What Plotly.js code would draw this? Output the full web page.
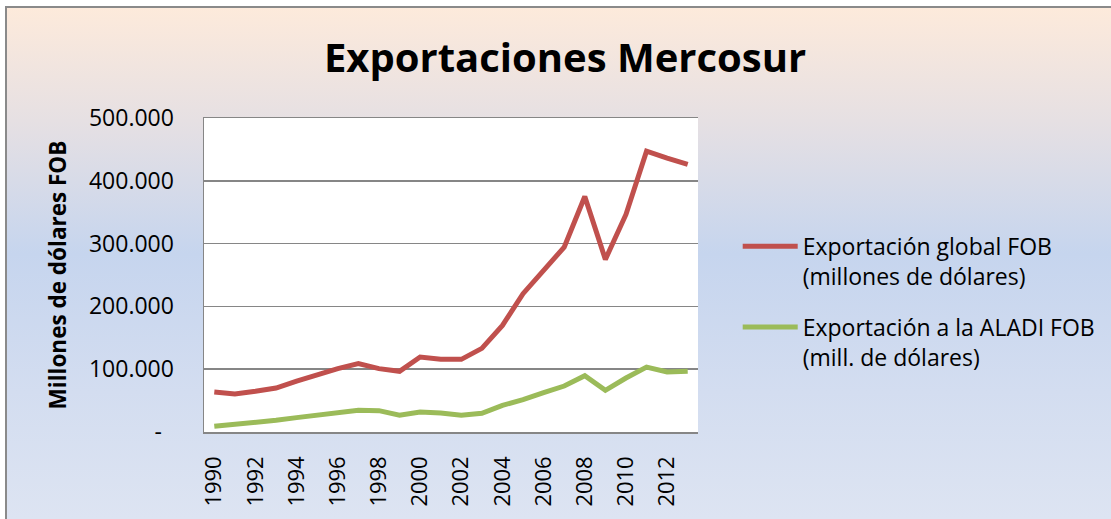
<!DOCTYPE html>
<html>
<head>
<meta charset="utf-8">
<script src="https://cdn.plot.ly/plotly-3.0.1.min.js"></script>
<style>
  html, body { margin: 0; padding: 0; background: #ffffff; }
  #frame {
    position: absolute; left: 5px; top: 6px; width: 1106px; height: 513px;
    border-top: 2px solid #8a8a8a; border-left: 2px solid #8a8a8a;
    box-sizing: border-box;
    background: linear-gradient(to bottom, #fdeadb 0%, #e6e0e3 22%, #c6d5ee 48%, #d3ddf0 75%, #dde4f2 100%);
  }
  #chart { position: absolute; left: 0; top: 0; width: 1111px; height: 519px; }
</style>
</head>
<body>
<div id="frame"></div>
<div id="chart"></div>
<script>
const years = ['1990','1991','1992','1993','1994','1995','1996','1997','1998','1999','2000','2001',
               '2002','2003','2004','2005','2006','2007','2008','2009','2010','2011','2012','2013'];
const exportGlobal = [63700, 60500, 64800, 70000, 81000, 91800, 100900, 108800, 100900, 96600, 119400, 115700,
                      115700, 133200, 169800, 220200, 257300, 294400, 375000, 274800, 346400, 447200, 436000, 426000];
const exportAladi = [9000, 11700, 15000, 18600, 22900, 27000, 29200, 34500, 34000, 26600, 31800, 30200,
                     26600, 29700, 42500, 51500, 62700, 73200, 89700, 66400, 85900, 103400, 95500, 96600];
const seriesNames = ['Exportación global FOB<br>(millones de dólares)', 'Exportación a la ALADI FOB<br>(mill. de dólares)'];
const yTickVals = [0, 100000, 200000, 300000, 400000, 500000];
const yTickText = ['-\u00a0\u00a0', '100.000', '200.000', '300.000', '400.000', '500.000'];
const xTickVals = ['1990','1992','1994','1996','1998','2000','2002','2004','2006','2008','2010','2012'];

const FONT = '"Open Sans", "Liberation Sans", sans-serif';

const traces = [
  { x: years, y: exportGlobal, name: seriesNames[0], type: 'scatter', mode: 'lines',
    line: { color: '#c0504d', width: 5 }, legendgroup: 'a' },
  { x: years, y: exportAladi, name: seriesNames[1], type: 'scatter', mode: 'lines',
    line: { color: '#9bbb59', width: 5 }, legendgroup: 'b' }
];

const layout = {
  width: 1111, height: 519,
  margin: { l: 204, r: 413, t: 118, b: 87, autoexpand: false },
  paper_bgcolor: 'rgba(0,0,0,0)',
  plot_bgcolor: '#ffffff',
  font: { family: FONT, color: '#000000', size: 23 },
  title: { text: '<b>Exportaciones Mercosur</b>', font: { family: FONT, size: 40, color: '#000' },
           xref: 'container', x: 0.5086, xanchor: 'center', yref: 'container', y: 0.888, yanchor: 'middle' },
  xaxis: {
    type: 'category', categoryorder: 'array', categoryarray: years,
    range: [-0.5, 23.5],
    tickmode: 'array', tickvals: xTickVals, ticktext: xTickVals,
    tickangle: -90, tickfont: { family: FONT, size: 22, color: '#000' },
    showgrid: false, showline: true, linecolor: '#868686', linewidth: 1.5, mirror: true,
    ticks: '', ticklabelstandoff: 14, zeroline: false, fixedrange: true
  },
  yaxis: {
    range: [0, 500000],
    tickmode: 'array', tickvals: yTickVals, ticktext: yTickText,
    tickfont: { family: FONT, size: 23, color: '#000' },
    showgrid: true, gridcolor: '#868686', gridwidth: 1.5,
    showline: true, linecolor: '#868686', linewidth: 1.5,
    ticks: '', ticklabelstandoff: 24, zeroline: false,
    title: { text: '<b>Millones de dólares FOB</b>', font: { family: FONT, size: 22.5, color: '#000' }, standoff: 16 }
  },
  showlegend: true,
  legend: {
    xref: 'container', x: 0.664, xanchor: 'left', yref: 'container', y: 0.567, yanchor: 'top',
    bgcolor: 'rgba(0,0,0,0)', borderwidth: 0,
    font: { family: FONT, size: 23, color: '#000' },
    valign: 'top', tracegroupgap: 18, itemwidth: 55
  }
};

Plotly.newPlot('chart', traces, layout, { displayModeBar: false, staticPlot: true });
</script>
</body>
</html>
